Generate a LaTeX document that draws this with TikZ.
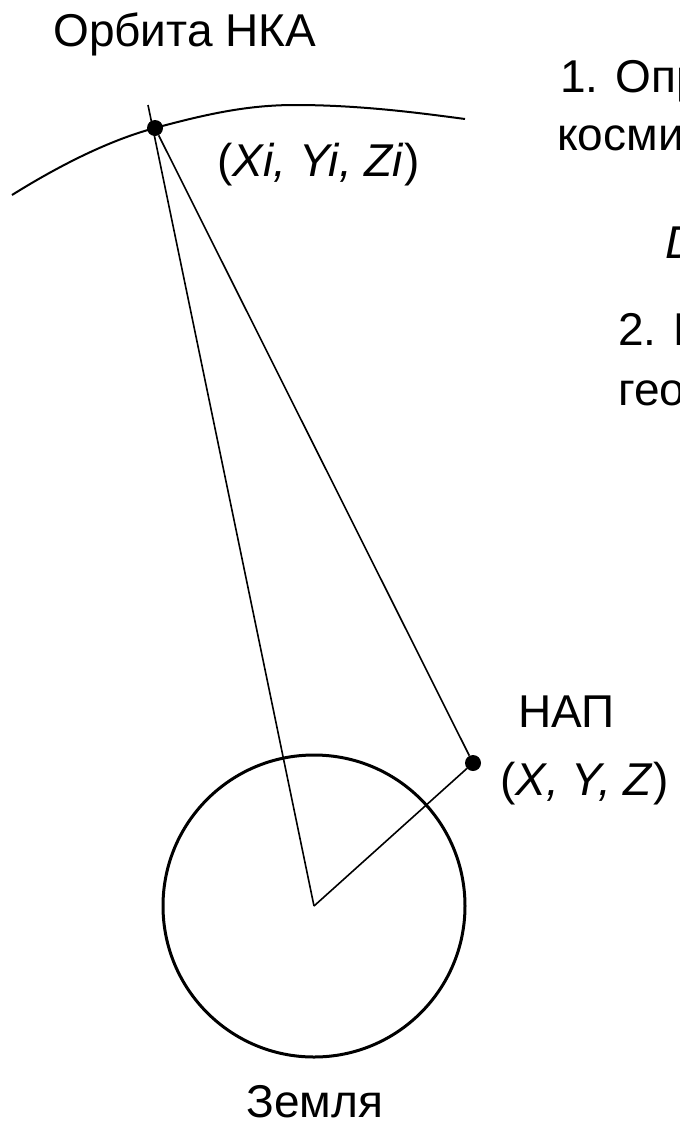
\documentclass[tikz,border=0pt]{standalone}
\usepackage{fontspec}
\setmainfont{Liberation Sans}
\usepackage{tikz}
\definecolor{ink}{HTML}{000000}
\tikzset{
  lbl/.style={font=\fontsize{34.5}{40}\selectfont,color=ink,inner sep=0pt,anchor=base west},
  ray/.style={color=ink,line width=1.2pt},
  orbit/.style={color=ink,line width=1.5pt},
  earth/.style={color=ink,line width=2.25pt},
  fixpt/.style={circle,fill=ink,inner sep=0pt,minimum size=12pt},
}
\begin{document}
\begin{tikzpicture}[x=0.75pt,y=-0.75pt]
  \useasboundingbox (0,0) rectangle (679,1121);
  \clip (0,0) rectangle (679,1121);
  % points
  \coordinate (ctr) at (314,906);
  \coordinate (nkatop) at (148,105);
  \node[fixpt] (nka) at (155,128) {};
  \node[fixpt] (nap) at (473,763) {};
  % orbit and earth
  \draw[orbit] (12,195) .. controls (60,165) and (110,140) .. (nka.center)
    .. controls (210,113) and (250,105) .. (295,105)
    .. controls (360,105) and (420,113) .. (465,119);
  \draw[earth] (ctr) circle[radius=151];
  % rays
  \draw[ray] (ctr) -- (nkatop);
  \draw[ray] (nka) -- (nap);
  \draw[ray] (nap) -- (ctr);
  % labels
  \node[lbl] (orbitlbl) at (53,46) {Орбита НКА};
  \node[lbl] (nkalbl) at (217,176) {(\textit{Xi, Yi, Zi})};
  \node[lbl] (naplbl) at (518,727) {НАП};
  \node[lbl] (napxyz) at (500,795) {(\textit{X, Y, Z})};
  \node[lbl,anchor=base] (earthlbl) at (315,1117) {Земля};
  % steps, cut at the right edge
  \node[lbl] (step1a) at (560,92) {1. Опр};
  \node[lbl] (step1b) at (557,150) {косми};
  \node[lbl] (dist) at (665,258) {\textit{D}};
  \node[lbl] (step2a) at (618,345) {2. Р};
  \node[lbl] (step2b) at (618,405) {гео};
\end{tikzpicture}
\end{document}
